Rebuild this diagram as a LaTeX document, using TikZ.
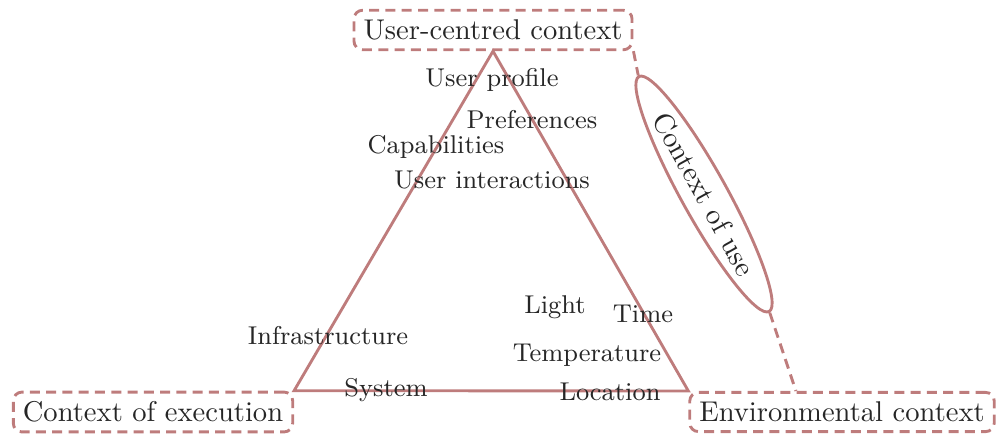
\documentclass[tikz,border=0pt]{standalone}
\usetikzlibrary{shapes.geometric,calc}
\definecolor{rosebrown}{RGB}{190,124,124}
\tikzset{
  ctxbox/.style={draw=rosebrown, line width=1pt, dash pattern=on 3.5pt off 2.2pt, rounded corners=3pt, text=black!85},
  item/.style={font=\small, text=black!85},
  conn/.style={draw=rosebrown, line width=1pt, dash pattern=on 3.5pt off 2.2pt},
}
\begin{document}
\begin{tikzpicture}[x=0.35pt, y=-0.35pt]
  \useasboundingbox (0,0) rectangle (997,433);
  % the three contexts
  \node[ctxbox] (ucc) at (493,30) {User-centred context};
  \node[ctxbox] (exe) at (153,412) {Context of execution};
  \node[ctxbox] (env) at (842,412) {Environmental context};
  \draw[rosebrown, line width=1pt] (ucc.south) -- (exe.north east) -- (env.north west) -- cycle;
  % user-centred items
  \node[item] (prof) at (492,80) {User profile};
  \node[item] (pref) at (532,120) {Preferences};
  \node[item] (capa) at (436,147) {Capabilities};
  \node[item] (inter) at (492,180) {User interactions};
  % execution items
  \node[item] (infra) at (328,336) {Infrastructure};
  \node[item] (sys) at (386,390) {System};
  % environmental items
  \node[item] (light) at (555,307) {Light};
  \node[item] (time) at (643,314) {Time};
  \node[item] (temp) at (587,355) {Temperature};
  \node[item] (loc) at (610,392) {Location};
  % context of use
  \node[ellipse, draw=rosebrown, line width=1pt, rotate=-61, minimum width=94pt, minimum height=16pt,
        inner sep=0pt, text=black!85] (cou) at (704,194) {Context of use};
  \draw[conn] (ucc.south east) -- (cou.west);
  \draw[conn] (cou.east) -- ($(env.north west)!0.35!(env.north east)$);
\end{tikzpicture}
\end{document}
